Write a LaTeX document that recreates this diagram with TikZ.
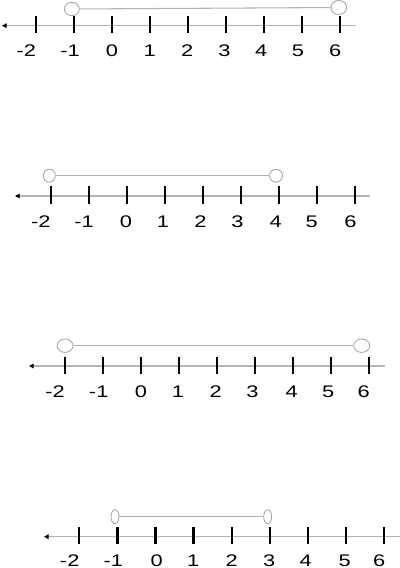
\documentclass[tikz,border=0pt]{standalone}
\usepackage{fontspec}
\newfontfamily\labfont[FakeStretch=1.3]{Liberation Sans}
\usetikzlibrary{arrows.meta,shapes.geometric}
\definecolor{axisgray}{HTML}{B4B4B4}
\definecolor{ringgray}{HTML}{A0A0A0}
\tikzset{
  axisline/.style={draw=axisgray, line width=0.8pt, -{Triangle[length=3.5pt,width=3.5pt,color=black]}},
  tickmark/.style={draw=black, line width=1.7pt},
  ring/.style={ellipse, draw=ringgray, fill=white, line width=0.6pt, inner sep=0pt},
  link/.style={draw=axisgray, line width=0.8pt},
  numlab/.style={font=\labfont\fontsize{12.6pt}{14pt}\selectfont, inner sep=0pt, text=black, anchor=base}
}
\begin{document}
\begin{tikzpicture}[x=0.75pt,y=-0.75pt]
\useasboundingbox (0,0) rectangle (400,568);
% ---------- panel 1 ----------
\coordinate (a1s) at (2,25.7);
\coordinate (a1e) at (356,25.7);
\draw[axisline] (a1e) -- (a1s);
\foreach \i in {0,...,8} { \draw[tickmark] ({36+38.04*\i},16) -- ({36+38.04*\i},33.3); }
\foreach \t/\x [count=\k] in {-2/26.3,-1/70,0/112,1/149.7,2/187.2,3/224.5,4/261.3,5/298,6/335.3}
  { \node[numlab] (l1-\k) at (\x,56.7) {\t}; }
\node[ring, minimum width=15*0.75pt, minimum height=13.4*0.75pt] (c1a) at (71.8,9) {};
\node[ring, minimum width=15.6*0.75pt, minimum height=14*0.75pt] (c1b) at (338.8,7.5) {};
\draw[link] (c1a) -- (c1b);
% ---------- panel 2 ----------
\coordinate (a2s) at (15,196);
\coordinate (a2e) at (370,196);
\draw[axisline] (a2e) -- (a2s);
\foreach \i in {0,...,8} { \draw[tickmark] ({50.7+38.08*\i},186) -- ({50.7+38.08*\i},204); }
\foreach \t/\x [count=\k] in {-2/40.8,-1/84,0/126,1/163,2/200.5,3/237.5,4/275.8,5/311.7,6/350.5}
  { \node[numlab] (l2-\k) at (\x,227.5) {\t}; }
\node[ring, minimum width=12*0.75pt, minimum height=13*0.75pt] (c2a) at (49.3,175.7) {};
\node[ring, minimum width=13*0.75pt, minimum height=13*0.75pt] (c2b) at (276,175.7) {};
\draw[link] (c2a) -- (c2b);
% ---------- panel 3 ----------
\coordinate (a3s) at (29,366);
\coordinate (a3e) at (385,366);
\draw[axisline] (a3e) -- (a3s);
\foreach \i in {0,...,8} { \draw[tickmark] ({65+38*\i},356.7) -- ({65+38*\i},374.3); }
\foreach \t/\x [count=\k] in {-2/55,-1/98.7,0/141,1/178,2/215.8,3/252.5,4/291.7,5/328.3,6/363.8}
  { \node[numlab] (l3-\k) at (\x,397.5) {\t}; }
\node[ring, minimum width=16*0.75pt, minimum height=13.4*0.75pt] (c3a) at (65,345.7) {};
\node[ring, minimum width=16*0.75pt, minimum height=13.4*0.75pt] (c3b) at (361.7,345.7) {};
\draw[link] (c3a) -- (c3b);
% ---------- panel 4 ----------
\coordinate (a4s) at (44,536.7);
\coordinate (a4e) at (400,536.7);
\draw[axisline] (a4e) -- (a4s);
\foreach \i in {0,...,8} { \draw[tickmark] ({79.3+38.1*\i},527.3) -- ({79.3+38.1*\i},544.3); }
\foreach \t/\x [count=\k] in {-2/69.7,-1/113.3,0/156.7,1/193.3,2/231.7,3/269.2,4/305.8,5/344.7,6/379.2}
  { \node[numlab] (l4-\k) at (\x,566.3) {\t}; }
\node[ring, minimum width=8*0.75pt, minimum height=14*0.75pt] (c4a) at (115,516.7) {};
\node[ring, minimum width=8*0.75pt, minimum height=14*0.75pt] (c4b) at (267.7,516.7) {};
\draw[link] (c4a) -- (c4b);
\end{tikzpicture}
\end{document}
